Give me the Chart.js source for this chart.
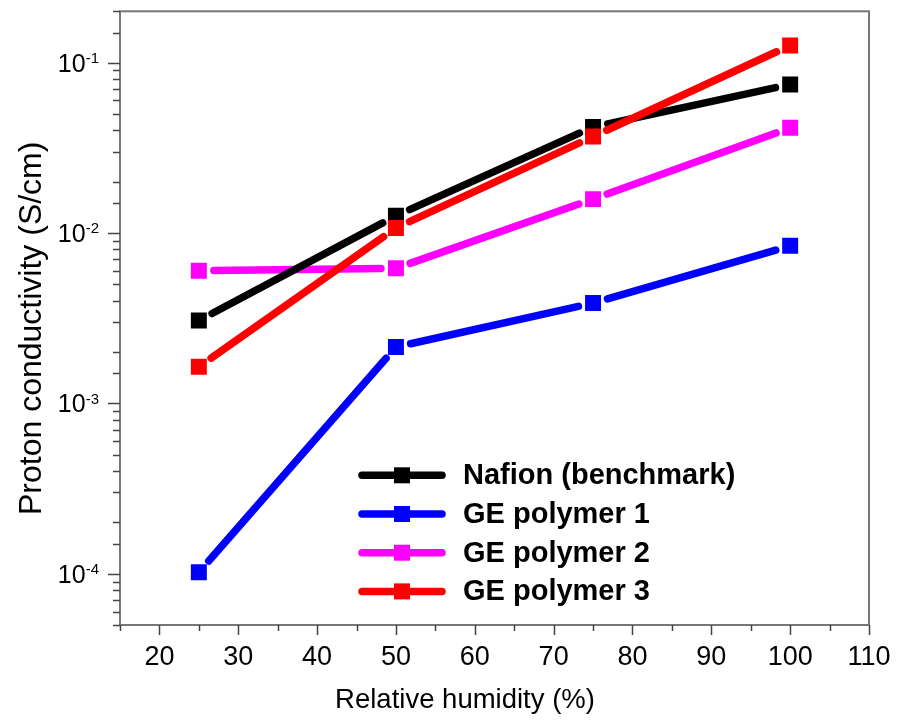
<!DOCTYPE html>
<html>
<head>
<meta charset="utf-8">
<script src="https://cdn.jsdelivr.net/npm/chart.js@4"></script>
<style>
  html, body { margin: 0; padding: 0; background: #ffffff; }
  #wrap { width: 909px; height: 723px; position: relative; }
</style>
</head>
<body>
<div id="wrap"><canvas id="c"></canvas></div>
<script>
// ---- data ----
const humidity = [25, 50, 75, 100];
const nafion = [0.00306, 0.0126, 0.0419, 0.0744];
const ge1 = [0.000102, 0.00214, 0.00388, 0.0084];
const ge2 = [0.0060, 0.0062, 0.0158, 0.0414];
const ge3 = [0.00164, 0.0107, 0.0368, 0.126];
const seriesNames = ['Nafion (benchmark)', 'GE polymer 1', 'GE polymer 2', 'GE polymer 3'];
const seriesValues = [nafion, ge1, ge2, ge3];
const seriesColors = ['#000000', '#0000ff', '#ff00ff', '#ff0000'];
const drawOrder = [1, 3, 2, 0];
const xTitle = 'Relative humidity (%)';
const yTitle = 'Proton conductivity (S/cm)';

const FONT = "'Liberation Sans', Arial, Helvetica, sans-serif";
Chart.defaults.font.family = FONT;
Chart.defaults.color = '#000';

const GAP = 15;
const segmentGap = {
  borderDash: ctx => {
    const L = Math.hypot(ctx.p1.x - ctx.p0.x, ctx.p1.y - ctx.p0.y);
    return [Math.max(L - 2 * GAP, 0.01), 2 * GAP];
  },
  borderDashOffset: ctx => {
    const L = Math.hypot(ctx.p1.x - ctx.p0.x, ctx.p1.y - ctx.p0.y);
    return Math.max(L - 2 * GAP, 0.01) + GAP;
  }
};

const datasets = seriesNames.map((name, i) => ({
  label: name,
  data: humidity.map((x, j) => ({ x: x, y: seriesValues[i][j] })),
  borderColor: seriesColors[i],
  backgroundColor: seriesColors[i],
  borderWidth: 7.5,
  borderCapStyle: 'round',
  borderJoinStyle: 'round',
  pointStyle: 'rect',
  pointRadius: 11.3,
  pointHoverRadius: 11.3,
  pointBorderWidth: 0,
  pointBackgroundColor: seriesColors[i],
  order: drawOrder[i],
  segment: segmentGap,
  tension: 0
}));

const decorPlugin = {
  id: 'decor',
  afterDraw(chart) {
    const ctx = chart.ctx;
    const ca = chart.chartArea;
    const xs = chart.scales.x;
    const ys = chart.scales.y;
    ctx.save();
    // frame
    ctx.strokeStyle = '#777777';
    ctx.lineWidth = 2;
    ctx.strokeRect(ca.left, ca.top, ca.right - ca.left, ca.bottom - ca.top);
    // tick marks
    ctx.strokeStyle = '#444444';
    ctx.lineWidth = 1.5;
    ctx.beginPath();
    xs.ticks.forEach(t => {
      const px = Math.round(xs.getPixelForValue(t.value)) + 0.5;
      const len = (t.value % 10 === 0) ? 10 : 6;
      ctx.moveTo(px, ca.bottom);
      ctx.lineTo(px, ca.bottom + len);
    });
    ys.ticks.forEach(t => {
      const lg = Math.log10(t.value);
      const major = Math.abs(lg - Math.round(lg)) < 1e-6;
      const py = Math.round(ys.getPixelForValue(t.value)) + 0.5;
      const len = major ? 12 : 7;
      ctx.moveTo(ca.left - len, py);
      ctx.lineTo(ca.left, py);
    });
    ctx.stroke();
    // y tick labels: 10^n
    ctx.fillStyle = '#000';
    ys.ticks.forEach(t => {
      const lg = Math.log10(t.value);
      if (Math.abs(lg - Math.round(lg)) > 1e-6) return;
      const py = ys.getPixelForValue(t.value);
      const expo = String(Math.round(lg));
      ctx.font = '15px ' + FONT;
      const we = ctx.measureText(expo).width;
      const right = ca.left - 21;
      ctx.textAlign = 'right';
      ctx.textBaseline = 'alphabetic';
      ctx.fillText(expo, right, py + 0.5);
      ctx.font = '25px ' + FONT;
      ctx.fillText('10', right - we, py + 9);
    });
    // axis titles
    ctx.font = '27.5px ' + FONT;
    ctx.textAlign = 'center';
    ctx.textBaseline = 'middle';
    ctx.fillText(xTitle, ca.left + 345, 700);
    ctx.save();
    ctx.translate(32, ca.top + 317);
    ctx.rotate(-Math.PI / 2);
    ctx.font = '32px ' + FONT;
    ctx.fillText(yTitle, 0, 0);
    ctx.restore();
    // legend
    const lx = ca.left + 242;
    const ly0 = ca.top + 464;
    const dy = 38.7;
    seriesNames.forEach((name, i) => {
      const y = ly0 + i * dy;
      ctx.strokeStyle = seriesColors[i];
      ctx.lineWidth = 7.5;
      ctx.lineCap = 'round';
      ctx.beginPath();
      ctx.moveTo(lx, y);
      ctx.lineTo(lx + 80, y);
      ctx.stroke();
      ctx.fillStyle = seriesColors[i];
      ctx.fillRect(lx + 40 - 8, y - 8, 16, 16);
      ctx.fillStyle = '#000';
      ctx.font = 'bold 29px ' + FONT;
      ctx.textAlign = 'left';
      ctx.textBaseline = 'middle';
      ctx.fillText(name, lx + 101, y + 1);
    });
    ctx.restore();
  }
};

new Chart(document.getElementById('c'), {
  type: 'line',
  data: { datasets: datasets },
  options: {
    responsive: true,
    maintainAspectRatio: false,
    animation: false,
    layout: { padding: { top: 8, right: 40, left: 0, bottom: 0 } },
    plugins: { legend: { display: false }, tooltip: { enabled: false } },
    scales: {
      x: {
        type: 'linear',
        min: 15,
        max: 110,
        ticks: {
          stepSize: 5,
          autoSkip: false,
          maxRotation: 0,
          padding: 6,
          color: '#000',
          font: { size: 27 },
          callback: v => (v % 10 === 0 ? String(v) : '')
        },
        grid: { display: true, drawOnChartArea: false, drawTicks: true, tickLength: 10, tickColor: 'rgba(0,0,0,0)' },
        border: { display: false },
        afterFit: s => { s.height = 98; }
      },
      y: {
        type: 'logarithmic',
        min: 5e-5,
        max: 0.2,
        ticks: { display: false },
        grid: { display: false },
        border: { display: false },
        afterFit: s => { s.width = 120; }
      }
    }
  },
  plugins: [decorPlugin]
});
</script>
</body>
</html>
